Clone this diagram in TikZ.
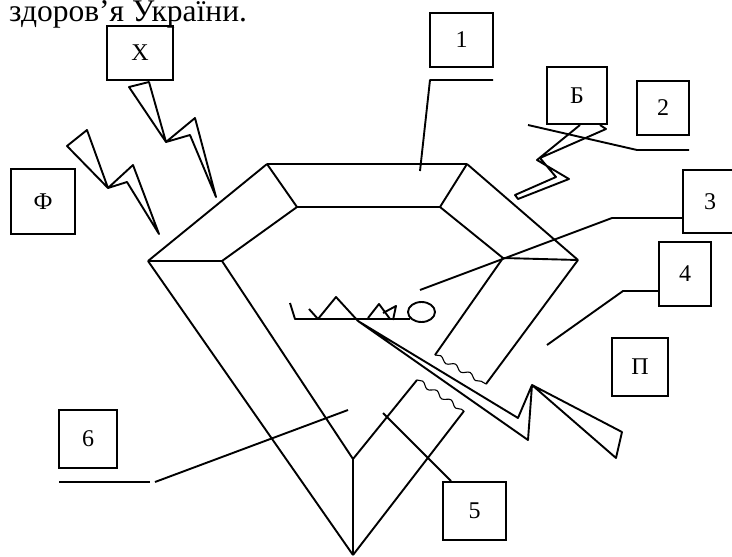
\documentclass[tikz,border=0pt]{standalone}
\usepackage{fontspec}
\setmainfont{Liberation Serif}
\usetikzlibrary{decorations.pathmorphing}
\pgfdeclarelayer{edgelayer}
\pgfdeclarelayer{nodelayer}
\pgfsetlayers{edgelayer,nodelayer,main}
\tikzstyle{corner}=[coordinate]
\tikzstyle{factor}=[draw=black, line width=1.9pt, inner sep=0pt, font=\fontsize{24}{24}\selectfont]
\tikzstyle{edge}=[draw=black, line width=1.9pt, line join=round]
\tikzstyle{crack}=[draw=black, line width=1.1pt, decorate, decoration={snake, amplitude=2.2pt, segment length=17pt}]

\begin{document}
\begin{tikzpicture}[x=1pt, y=-1pt]
	\useasboundingbox (0,0) rectangle (732,557);
	\clip (0,0) rectangle (732,557);
	\begin{pgfonlayer}{nodelayer}

	\node [anchor=base west, inner sep=0pt, font=\fontsize{31.5}{31.5}\selectfont] (title) at (9,21) {здоров’я України.};

	%factors
		\node [style=factor, minimum width=66, minimum height=54] (Kh) at (140,53) {Х};
		\node [style=factor, minimum width=64, minimum height=65] (F) at (43,201.5) {Ф};
		\node [style=factor, minimum width=60, minimum height=57] (B) at (577,95.5) {Б};
		\node [style=factor, minimum width=56, minimum height=58] (P) at (640,367) {П};

	%parts
		\node [style=factor, minimum width=63, minimum height=54] (n1) at (461.5,40) {1};
		\node [style=factor, minimum width=52, minimum height=54] (n2) at (663,108) {2};
		\node [style=factor, minimum width=54, minimum height=63] (n3) at (710,201.5) {3};
		\node [style=factor, minimum width=52, minimum height=64] (n4) at (685,274) {4};
		\node [style=factor, minimum width=63, minimum height=58] (n5) at (474.5,511) {5};
		\node [style=factor, minimum width=58, minimum height=58] (n6) at (88,439) {6};

	%diamond
		\node [style=corner] (1) at (267,164) {};
		\node [style=corner] (2) at (467,164) {};
		\node [style=corner] (3) at (297,207) {};
		\node [style=corner] (4) at (440,207) {};
		\node [style=corner] (5) at (148,261) {};
		\node [style=corner] (6) at (222,261) {};
		\node [style=corner] (7) at (503,258) {};
		\node [style=corner] (8) at (578,260) {};
		\node [style=corner] (9) at (353,555) {};
		\node [style=corner] (10) at (353,459) {};
		\node [style=corner] (11) at (417,380) {};
		\node [style=corner] (12) at (464,411) {};
		\node [style=corner] (13) at (435,355) {};
		\node [style=corner] (14) at (486,384) {};

	%leader ends
		\node [style=corner] (a1) at (493,80) {};
		\node [style=corner] (b1) at (430,80) {};
		\node [style=corner] (c1) at (420,171) {};
		\node [style=corner] (a2) at (689,150) {};
		\node [style=corner] (b2) at (637,150) {};
		\node [style=corner] (c2) at (528,125) {};
		\node [style=corner] (a3) at (683,218) {};
		\node [style=corner] (b3) at (612,218) {};
		\node [style=corner] (c3) at (420,290) {};
		\node [style=corner] (a4) at (659,291) {};
		\node [style=corner] (b4) at (623,291) {};
		\node [style=corner] (c4) at (547,345) {};
		\node [style=corner] (a5) at (451,481) {};
		\node [style=corner] (c5) at (383,413) {};
		\node [style=corner] (a6) at (59,482) {};
		\node [style=corner] (b6) at (150,482) {};
		\node [style=corner] (d6) at (155,482) {};
		\node [style=corner] (c6) at (348,410) {};

	\end{pgfonlayer}
	\begin{pgfonlayer}{edgelayer}

		%crown
		\draw [style=edge] (1) to (2);
		\draw [style=edge] (3) to (4);
		\draw [style=edge] (1) to (3);
		\draw [style=edge] (2) to (4);
		\draw [style=edge] (5) to (1);
		\draw [style=edge] (6) to (3);
		\draw [style=edge] (5) to (6);
		\draw [style=edge] (2) to (8);
		\draw [style=edge] (4) to (7);
		\draw [style=edge] (7) to (8);

		%pavilion, broken
		\draw [style=edge] (5) to (9);
		\draw [style=edge] (6) to (10);
		\draw [style=edge] (10) to (9);
		\draw [style=edge] (10) to (11);
		\draw [style=edge] (12) to (9);
		\draw [style=edge] (7) to (13);
		\draw [style=edge] (14) to (8);
		\draw [style=crack] (11) to (12);
		\draw [style=crack] (13) to (14);

		%teeth and ring
		\draw [style=edge] (290,303) -- (295,319) -- (410,319);
		\draw [style=edge] (309,309) -- (318,319) -- (336,297) -- (358,321);
		\draw [style=edge] (368,318) -- (379,304) -- (390,319);
		\draw [style=edge] (383,313) -- (396,306) -- (393,320);
		\draw [style=edge] (421.5,312) ellipse [x radius=13.5pt, y radius=10pt];

		%bolts
		\draw [style=edge] (129,87) -- (149,82) -- (166,142) -- (195,118) -- (216,197) -- (190,135) -- (166,142) -- cycle;
		\draw [style=edge] (67,146) -- (87,130) -- (108,188) -- (133,165) -- (159,234) -- (127,182) -- (108,188) -- cycle;
		\draw [style=edge] (580,125) -- (537,160) -- (569,179) -- (518,199) -- (515,195) -- (556,177) -- (540,158) -- (606,129) -- (600,125);
		\draw [style=edge] (358,321) -- (518,418) -- (532,385) -- (622,432) -- (616,458) -- (532,385) -- (528,440) -- cycle;

		%leaders
		\draw [style=edge] (a1) to (b1) to (c1);
		\draw [style=edge] (a2) to (b2) to (c2);
		\draw [style=edge] (a3) to (b3) to (c3);
		\draw [style=edge] (a4) to (b4) to (c4);
		\draw [style=edge] (a5) to (c5);
		\draw [style=edge] (a6) to (b6);
		\draw [style=edge] (d6) to (c6);

	\end{pgfonlayer}
\end{tikzpicture}
\end{document}
